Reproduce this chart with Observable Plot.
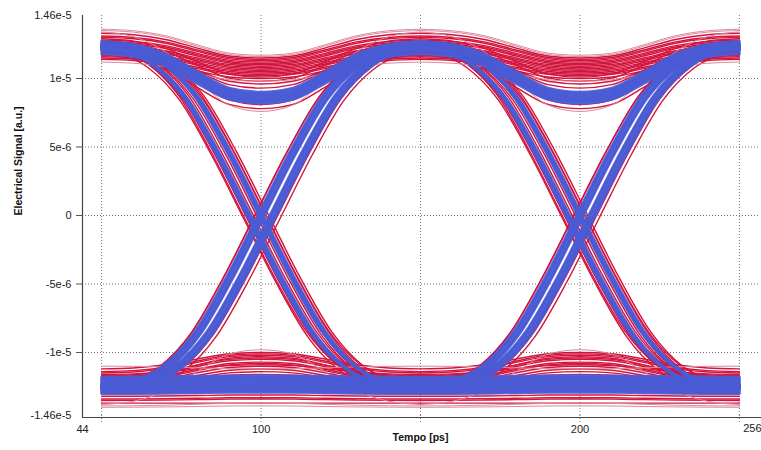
<!DOCTYPE html>
<html><head><meta charset="utf-8">
<script src="https://cdn.jsdelivr.net/npm/d3@7"></script>
<script src="https://cdn.jsdelivr.net/npm/@observablehq/plot@0.6"></script>
<style>html,body{margin:0;padding:0;background:#fff;overflow:hidden} svg{display:block}</style>
</head><body><div id="chart"></div>
<script>
// ---- data (signal values in units of 1e-5 a.u., time in ps) ----
const relTimes = [0, 10, 20, 30, 40, 50, 60, 70, 80, 90, 100];
const periodStarts = [50, 150];
const fallShape = [1.23, 1.21, 1.10, 0.86, 0.46, 0.0, -0.46, -0.86, -1.11, -1.22, -1.25];
const riseShape = [-1.25, -1.22, -1.11, -0.86, -0.46, 0.0, 0.46, 0.86, 1.10, 1.21, 1.23];
const dipShape  = [0, 0.06, 0.25, 0.6, 0.92, 1, 0.92, 0.6, 0.25, 0.06, 0];

// upper rail (1 -> 1) traces: level at bit centre, level at transition
const redHHRail  = [1.33, 1.31, 1.30, 1.28, 1.27, 1.26, 1.24, 1.23, 1.22, 1.20, 1.19, 1.18, 1.16, 1.15, 1.14, 1.27, 1.21, 1.25, 1.19, 1.23, 1.17, 1.29];
const redHHMid   = [1.15, 1.14, 1.13, 1.12, 1.11, 1.10, 1.09, 1.08, 1.07, 1.06, 1.05, 1.04, 1.03, 1.02, 1.00, 0.98, 0.96, 0.93, 0.84, 0.81, 0.78, 1.01];
const blueHHRail = [1.18, 1.20, 1.21, 1.22, 1.23, 1.24, 1.25, 1.26, 1.27];
const blueHHMid  = [0.82, 0.83, 0.84, 0.85, 0.86, 0.87, 0.88, 0.89, 0.90];
const faintHHRail = [1.36, 1.34, 1.12, 1.35];
const faintHHMid  = [1.17, 0.76, 0.98, 1.16];

// lower rail (0 -> 0) traces
const redLLRail  = [-1.12, -1.14, -1.15, -1.17, -1.18, -1.20, -1.21, -1.22, -1.24, -1.25, -1.27, -1.30, -1.32, -1.34, -1.35, -1.37, -1.18, -1.24, -1.16];
const redLLMid   = [-1.00, -1.01, -1.02, -1.04, -1.05, -1.07, -1.08, -1.10, -1.12, -1.14, -1.20, -1.28, -1.31, -1.33, -1.34, -1.37, -1.03, -1.16, -1.09];
const blueLLRail = [-1.18, -1.19, -1.20, -1.21, -1.22, -1.23, -1.24, -1.25, -1.26, -1.27, -1.28, -1.29, -1.30];
const blueLLMid  = [-1.17, -1.18, -1.19, -1.20, -1.21, -1.22, -1.23, -1.24, -1.25, -1.26, -1.27, -1.28, -1.29];
const faintLLRail = [-1.40, -1.38, -1.10, -1.39];
const faintLLMid  = [-1.39, -0.98, -1.12, -1.37];

// edges: time shift (ps) and level shift of each trace (two sub-bands per edge)
const redFallShift  = [-6.0, -5.5, -5.0, -4.6, -3.8, -2.6, -1.2, 0, 1.2, 1.7, 2.2, -4.2, 0.6];
const redFallLevel  = [0.02, -0.02, 0.01, -0.01, 0.02, 0.01, -0.01, -0.02, 0.02, -0.01, 0.01, 0.0, 0.0];
const blueFallShift = [-4.6, -4.2, -3.8, -3.4, -3.0, -0.8, -0.4, 0, 0.4, 0.8];
const blueFallLevel = [0.01, 0.01, 0, -0.01, -0.01, 0.01, 0.01, 0, -0.01, -0.01];
const redRiseShift  = [6.0, 5.5, 5.0, 4.6, 3.8, 2.6, 1.2, 0, -1.2, -1.7, -2.2, 4.2, -0.6];
const redRiseLevel  = [-0.02, 0.02, -0.01, 0.01, -0.02, -0.01, 0.01, 0.02, -0.02, 0.01, -0.01, 0.0, 0.0];
const blueRiseShift = [4.6, 4.2, 3.8, 3.4, 3.0, 0.8, 0.4, 0, -0.4, -0.8];
const blueRiseLevel = [-0.01, -0.01, 0, 0.01, 0.01, -0.01, -0.01, 0, 0.01, 0.01];

// axes
const xGrid = [50, 100, 150, 200, 250];
const xLabels = [44, 100, 200];
const xEndLabel = [256];
const yGrid = [-1, -0.5, 0, 0.5, 1];
const yLabelVals = [-1.46, -1, -0.5, 0, 0.5, 1, 1.46];
const yLabelText = ["-1.46e-5", "-1e-5", "-5e-6", "0", "5e-6", "1e-5", "1.46e-5"];

// ---- build line tables ----
let uid = 0;
function railRows(rows, rails, mids) {
  for (const p of periodStarts) rails.forEach((r, i) => {
    const id = uid++;
    relTimes.forEach((rt, k) => rows.push({t: p + rt, v: r - (r - mids[i]) * dipShape[k], id}));
  });
}
function edgeRows(rows, shape, shifts, levels) {
  for (const p of periodStarts) shifts.forEach((dt, i) => {
    const id = uid++;
    relTimes.forEach((rt, k) => rows.push({t: p + rt + (k > 0 && k < relTimes.length - 1 ? dt : 0), v: shape[k] + levels[i], id}));
  });
}
const redRows = [], blueRows = [], faintRows = [];
railRows(redRows, redHHRail, redHHMid);
railRows(redRows, redLLRail, redLLMid);
edgeRows(redRows, fallShape, redFallShift, redFallLevel);
edgeRows(redRows, riseShape, redRiseShift, redRiseLevel);
railRows(faintRows, faintHHRail, faintHHMid);
railRows(faintRows, faintLLRail, faintLLMid);
railRows(blueRows, blueHHRail, blueHHMid);
railRows(blueRows, blueLLRail, blueLLMid);
edgeRows(blueRows, fallShape, blueFallShift, blueFallLevel);
edgeRows(blueRows, riseShape, blueRiseShift, blueRiseLevel);

const yMap = new Map(yLabelVals.map((v, i) => [v, yLabelText[i]]));
const dotted = {stroke: "#777", strokeOpacity: 1, strokeDasharray: "1,2"};

const chart = Plot.plot({
  width: 761, height: 450,
  marginLeft: 82, marginRight: 3, marginTop: 15, marginBottom: 35,
  style: {fontFamily: "'Liberation Sans', Arial, sans-serif", fontSize: "11px", color: "#222", background: "#fff"},
  x: {domain: [44, 256]},
  y: {domain: [-1.46, 1.46]},
  marks: [
    Plot.gridX(xGrid, dotted),
    Plot.gridY(yGrid, dotted),
    Plot.axisX(xGrid, {tickSize: 7, tickFormat: () => "", label: null, ...dotted}),
    Plot.axisX(xLabels, {tickSize: 0, tickPadding: 10, label: null, tickFormat: d => String(d)}),
    Plot.text(xEndLabel, {x: d => d, text: d => String(d), frameAnchor: "bottom", dy: 16, textAnchor: "end", dx: 3, fill: "#222"}),
    Plot.axisY(yGrid, {tickSize: 6, tickFormat: () => "", label: null, stroke: "#555"}),
    Plot.axisY(yLabelVals, {tickSize: 0, tickPadding: 11, label: null, tickFormat: d => yMap.get(d)}),
    Plot.line(redRows, {x: "t", y: "v", z: "id", stroke: "#d3143d", strokeWidth: 1.4, curve: "monotone-x"}),
    Plot.line(faintRows, {x: "t", y: "v", z: "id", stroke: "#d98a9c", strokeWidth: 1, curve: "monotone-x"}),
    Plot.line(blueRows, {x: "t", y: "v", z: "id", stroke: "#4a5bd5", strokeOpacity: 0.92, strokeWidth: 3, curve: "monotone-x"}),
    Plot.ruleX([44], {stroke: "#444", strokeWidth: 1.2, insetBottom: -2}),
    Plot.ruleY([-1.46], {stroke: "#444", strokeWidth: 1.2, dy: 2, insetRight: -3}),
    Plot.text(["Tempo [ps]"], {text: d => d, frameAnchor: "bottom", dy: 25, fontWeight: "bold", fontSize: 10.5, fill: "#111"}),
    Plot.text(["Electrical Signal [a.u.]"], {text: d => d, frameAnchor: "left", dx: -64, rotate: -90, fontWeight: "bold", fontSize: 10.5, fill: "#111"})
  ]
});
document.getElementById("chart").appendChild(chart);
</script>
</body></html>
